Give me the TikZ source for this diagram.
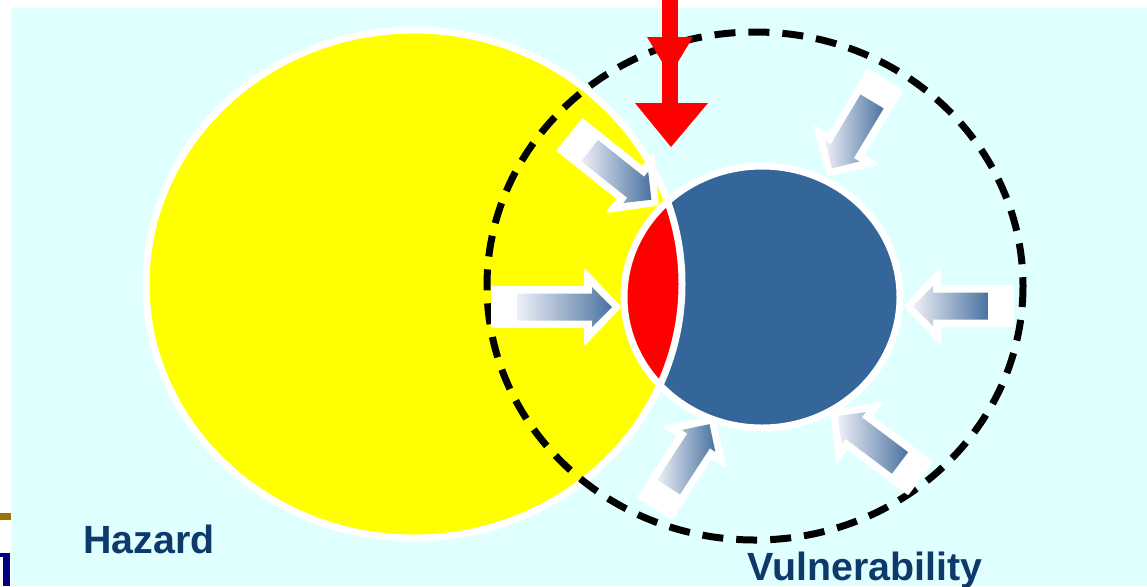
\documentclass[tikz,border=0pt]{standalone}
\usepackage{fontspec}
\newfontfamily\labelfont{Liberation Sans}
\definecolor{skycyan}{HTML}{E0FFFF}
\definecolor{sunyellow}{HTML}{FFFF00}
\definecolor{vulblue}{HTML}{346699}
\definecolor{labelblue}{HTML}{0D3A6A}
\definecolor{shadelight}{HTML}{EEF0F8}
\definecolor{shadedark}{HTML}{4A72A0}
\definecolor{edgebrown}{HTML}{A07000}
\definecolor{edgenavy}{HTML}{000080}
\tikzset{
  rim/.style={draw=white, line width=0.14cm},
  dashring/.style={draw=black, line width=0.14cm, dash pattern=on 0.42cm off 0.26cm},
  arrowrim/.style={fill=white, draw=white, line width=0.04cm, line join=round},
  arrowcore/.style={left color=shadelight, right color=shadedark},
  caption/.style={font=\labelfont\bfseries\fontsize{22.4}{26}\selectfont, text=labelblue, inner sep=0pt, anchor=base west}
}
\begin{document}
\begin{tikzpicture}[x=0.02cm, y=-0.02cm]
    \useasboundingbox (0,0) rectangle (1147,586);
    \fill[white] (0,0) rectangle (1147,586);
    \fill[skycyan] (11,8) rectangle (1147,586);
    \fill[edgebrown] (0,513) rectangle (11,520);
    \fill[edgenavy] (3,553) rectangle (10,586);
    \fill[edgenavy] (0,553) rectangle (10,557);
    \fill[sunyellow] (414,284) ellipse [x radius=268, y radius=254];
    \fill[vulblue] (762,297) ellipse [x radius=138, y radius=131];
    \begin{scope}
        \clip (414,284) ellipse [x radius=268, y radius=254];
        \fill[red] (762,297) ellipse [x radius=138, y radius=131];
    \end{scope}
    \draw[rim] (414,284) ellipse [x radius=268, y radius=254];
    \draw[rim] (762,297) ellipse [x radius=138, y radius=131];
    \draw[dashring] (755,286) ellipse [x radius=268, y radius=254];
    \foreach \x/\y/\a/\l in {570/135/-38.5/112, 492/307/0/128, 655/508/57/108, 920/478/143/111, 1013/306/180/108, 885/80/239/111}
    {
        \begin{scope}[shift={(\x,\y)}, rotate=\a]
            \filldraw[arrowrim] (0,-20) -- (\l-35,-20) -- (\l-35,-37) -- (\l,0) -- (\l-35,37) -- (\l-35,20) -- (0,20) -- cycle;
            \shade[arrowcore] (25,-13.5) -- (\l-28,-13.5) -- (\l-28,-20) -- (\l-8,0) -- (\l-28,20) -- (\l-28,13.5) -- (25,13.5) -- cycle;
        \end{scope}
    }
    \fill[red] (662,0) rectangle (678,110);
    \fill[red] (647,37) -- (693,37) -- (670,75) -- cycle;
    \fill[red] (635,103) -- (708,103) -- (671,147) -- cycle;
    \node[caption] (hazard) at (83,553) {Hazard};
    \node[caption] (vulnerability) at (747,580) {Vulnerability};
\end{tikzpicture}
\end{document}
